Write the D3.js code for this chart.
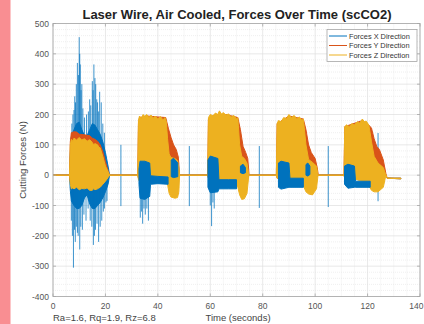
<!DOCTYPE html>
<html>
<head>
<meta charset="utf-8">
<script src="https://cdn.jsdelivr.net/npm/d3@7/dist/d3.min.js"></script>
<style>
  html, body { margin: 0; padding: 0; background: #ffffff; }
  svg { display: block; }
</style>
</head>
<body>
<svg id="chart" width="424" height="324"></svg>
<script>
// ---- Data ----
const title = "Laser Wire, Air Cooled, Forces Over Time (scCO2)";
const xLabel = "Time (seconds)";
const yLabel = "Cutting Forces (N)";
const note = "Ra=1.6, Rq=1.9, Rz=6.8";
const seriesNames = ["Forces X Direction", "Forces Y Direction", "Forces Z Direction"];
const xTicks = [0, 20, 40, 60, 80, 100, 120, 140];
const yTicks = [-400, -300, -200, -100, 0, 100, 200, 300, 400, 500];

// Envelopes of the dense signals: [time s, min N, max N]; null breaks a band
const forceXEnvelope = [
  [0,0,0],[6.3,0,0],[6.6,-50,70],[7,-85,125],[8,-100,150],[9,-110,170],[10,-110,175],
  [11,-100,150],[12,-75,130],[13,-65,130],[14,-95,150],[15,-110,170],[16,-110,165],
  [17,-100,150],[18,-90,135],[19,-75,110],[20,-55,75],[21,-30,30],[21.6,0,0],
  [32.3,0,0],[59,0,0],[85.2,0,0],[111,0,0],[127,0,0],[127.5,-10,-10],[132.7,-12,-10]
];
// thin excursions of the X force: [time s, min N, max N]
const forceXSpikes = [
  [7.2,0,170],[7.6,0,200],[8.0,0,215],[8.3,0,260],[8.6,0,240],[8.9,0,300],[9.3,0,370],[9.7,0,330],
  [10.0,0,455],[10.2,0,400],[10.4,0,365],[10.7,0,280],[11.0,0,300],[11.4,0,220],[12.0,0,190],
  [12.8,0,200],[13.5,0,210],[14.0,0,250],[14.4,0,230],[15.0,0,310],[15.3,0,280],[15.6,0,365],
  [16.0,0,320],[16.3,0,300],[16.7,0,250],[17.0,0,240],[17.4,0,210],[17.8,0,275],[18.4,0,240],
  [19.0,0,170],[19.6,0,140],
  [7.0,-150,0],[7.4,-200,0],[7.8,-305,0],[8.2,-180,0],[8.5,-220,0],[8.9,-170,0],[9.3,-190,0],
  [9.6,-200,0],[10.2,-245,0],[10.6,-170,0],[11.2,-180,0],[11.8,-130,0],[12.6,-150,0],[13.4,-110,0],
  [14.2,-150,0],[14.8,-170,0],[15.4,-230,0],[15.8,-200,0],[16.2,-180,0],[16.8,-160,0],[17.4,-220,0],
  [18.0,-170,0],[18.6,-150,0],[19.2,-120,0],[19.6,-110,0],[20.2,-90,0],[20.6,-85,0],
  [25.9,-102,100],[52,-102,96],[78.7,-108,96],[105,-105,96],[124,-86,139],
  [33.3,-140,0],[33.8,-120,0],[34.2,-160,0],[34.7,-110,0],[35.2,-130,0],[35.8,-110,0],[36.4,-150,0],
  [60.0,-100,0],[60.5,-168,0],[61.0,-90,0],[61.5,-110,0]
];
const forceXCore = [
  [32.8,-30,20],[33.2,-76,46],[35,-80,46],[36.9,-70,40],[37.2,-30,-2],[40,-28,-4],[43.9,-30,-6],null,
  [45.1,-5,50],[46,-8,56],[47.6,-5,40],null,
  [59.1,-40,50],[60,-58,63],[62.9,-55,55],[63.3,-45,-15],[67,-45,-15],[70,-45,-15],null,
  [71.5,8,30],[72.5,5,36],[73.4,8,25],null,
  [86,-40,40],[87,-46,46],[90,-40,40],[90.4,-40,-10],[95.5,-40,-10],null,
  [96.5,0,35],[97.2,-3,40],[98,2,30],null,
  [111.2,-30,30],[112.5,-43,36],[115,-40,30],[115.4,-40,-20],[121,-40,-20]
];
const forceYEnvelope = [
  [0,0,0],[6.3,0,0],[6.6,-20,110],[7,-30,140],[8,-30,143],[9,-30,142],[10,-30,135],[12,-30,133],
  [14,-30,130],[15,-30,122],[16,-30,118],[17,-30,112],[18,-25,100],[19,-20,78],[20,-10,45],
  [20.8,-5,20],[21.6,0,0],
  [32.3,0,0],[32.6,-10,170],[33,-15,190],[36,-15,195],[40,-10,192],[43,-10,190],[44,-15,155],
  [45,-20,125],[46,-20,100],[47,-20,85],[47.8,-15,60],[48.3,0,0],
  [59,0,0],[59.3,-10,185],[62,-10,200],[66,-15,200],[70.5,-20,190],[71.5,-20,150],[72.5,-20,95],
  [73.5,-20,75],[74.3,-10,55],[74.8,0,0],
  [85.2,0,0],[85.5,-10,170],[90,-10,195],[95.5,-20,185],[96.5,-20,150],[97.5,-20,100],
  [98.5,-15,75],[100,-10,55],[100.8,-5,25],[101.2,0,0],
  [111,0,0],[111.3,-10,160],[118,-10,180],[120.5,-15,165],[121.5,-20,155],[122.5,-20,120],
  [123.5,-20,95],[124.5,-15,85],[126,-10,50],[127,0,5],[127.5,-10,-10],[132.7,-12,-10]
];
const forceZEnvelope = [
  [0,0,0],[6.3,0,0],[6.6,-30,100],[7,-45,118],[7.5,-42,112],[8,-45,122],[9,-40,116],[10,-48,124],
  [11,-44,116],[12,-45,120],[13,-42,112],[14,-50,117],[15,-50,108],[15.5,-44,100],[16,-48,104],
  [17,-45,100],[17.5,-42,92],[18,-40,90],[19,-30,62],[20,-20,30],[21,-8,12],[21.6,0,0],
  [32.3,0,0],[32.6,-15,180],[33,-20,195],[33.7,-18,188],[34.4,-20,200],[35,-20,194],[35.8,-18,200],
  [36.6,-15,190],[37.4,-15,198],[38.2,-12,188],[39,-12,195],[40,-10,186],[41,-10,193],[42,-10,182],
  [42.7,-10,190],[43.2,-10,178],[43.7,-30,120],[44.3,-60,70],[45,-72,58],[46.5,-76,55],[47.5,-74,48],
  [48,-55,25],[48.3,0,0],
  [59,0,0],[59.3,-10,190],[60,-12,200],[61,-14,196],[62,-15,205],[62.8,-15,200],[63.5,-15,212],
  [64.2,-16,202],[65,-18,206],[66,-20,198],[67,-25,202],[68,-28,192],[69,-30,197],[70,-35,186],
  [70.5,-40,190],[71.2,-65,100],[72,-80,62],[73,-78,55],[74,-60,40],[74.7,0,0],
  [85.2,0,0],[85.5,-10,170],[86,-10,180],[87,-11,176],[88,-12,190],[89,-14,186],[90,-15,200],
  [91,-18,190],[92,-20,197],[93,-22,186],[94,-25,192],[95,-30,180],[95.5,-35,186],[96.5,-55,100],
  [97.5,-62,52],[99,-65,42],[100.5,-45,30],[101.1,0,0],
  [111,0,0],[111.3,-10,160],[112,-10,166],[113,-11,160],[114,-12,170],[115,-14,166],[116,-15,176],
  [117,-18,172],[118,-20,185],[118.8,-24,176],[119.5,-28,178],[120.5,-35,165],[121.5,-50,110],
  [122.5,-55,62],[124,-55,40],[126,-40,25],[127,0,0],[127.5,-10,-10],[132.7,-12,-10]
];
const seriesColors = ["#0072BD", "#D95319", "#EDB120"];

// ---- Layout ----
const svg = d3.select("#chart");
const L = 53, R = 420, T = 23.5, B = 296.5;
const x = d3.scaleLinear().domain([0, 140]).range([L, R]);
const y = d3.scaleLinear().domain([-400, 500]).range([B, T]);

svg.append("rect").attr("x", 0).attr("y", 0).attr("width", 10.5).attr("height", 324).attr("fill", "#f98e92");

// grid
const g = svg.append("g");
const xMinor = d3.range(0, 141, 5).filter(v => v % 20 !== 0);
const yMinor = d3.range(-400, 501, 20).filter(v => v % 100 !== 0);
g.selectAll(".xm").data(xMinor).join("line")
  .attr("x1", d => x(d)).attr("x2", d => x(d)).attr("y1", T).attr("y2", B)
  .attr("stroke", "#e4e4e4").attr("stroke-width", 0.6).attr("stroke-dasharray", "1,1");
g.selectAll(".ym").data(yMinor).join("line")
  .attr("x1", L).attr("x2", R).attr("y1", d => y(d)).attr("y2", d => y(d))
  .attr("stroke", "#e4e4e4").attr("stroke-width", 0.6).attr("stroke-dasharray", "1,1");
g.selectAll(".xg").data(xTicks).join("line")
  .attr("x1", d => x(d)).attr("x2", d => x(d)).attr("y1", T).attr("y2", B)
  .attr("stroke", "#dedede").attr("stroke-width", 0.7);
g.selectAll(".yg").data(yTicks).join("line")
  .attr("x1", L).attr("x2", R).attr("y1", d => y(d)).attr("y2", d => y(d))
  .attr("stroke", "#dedede").attr("stroke-width", 0.7);

// data
svg.append("clipPath").attr("id", "clip").append("rect")
  .attr("x", L).attr("y", T).attr("width", R - L).attr("height", B - T);
const plot = svg.append("g").attr("clip-path", "url(#clip)");
const area = d3.area().defined(d => d !== null)
  .x(d => x(d[0])).y0(d => y(d[1])).y1(d => y(d[2]));

function band(data, color) {
  plot.append("path").datum(data).attr("d", area)
    .attr("fill", color).attr("stroke", color).attr("stroke-width", 1).attr("stroke-linejoin", "round");
}
band(forceXEnvelope, seriesColors[0]);
plot.selectAll(".spike").data(forceXSpikes).join("line")
  .attr("x1", d => x(d[0])).attr("x2", d => x(d[0]))
  .attr("y1", d => y(d[1])).attr("y2", d => y(d[2]))
  .attr("stroke", seriesColors[0]).attr("stroke-width", 0.9).attr("stroke-opacity", 0.85);
band(forceYEnvelope, seriesColors[1]);
band(forceZEnvelope, seriesColors[2]);
band(forceXCore, seriesColors[0]);

// axes box
svg.append("rect").attr("x", L).attr("y", T).attr("width", R - L).attr("height", B - T)
  .attr("fill", "none").attr("stroke", "#a6a6a6").attr("stroke-width", 0.8);

// ticks (inside, MATLAB style)
const tk = svg.append("g").attr("stroke", "#a6a6a6").attr("stroke-width", 0.8);
xTicks.forEach(v => {
  tk.append("line").attr("x1", x(v)).attr("x2", x(v)).attr("y1", B).attr("y2", B - 3);
  tk.append("line").attr("x1", x(v)).attr("x2", x(v)).attr("y1", T).attr("y2", T + 3);
});
yTicks.forEach(v => {
  tk.append("line").attr("x1", L).attr("x2", L + 3).attr("y1", y(v)).attr("y2", y(v));
  tk.append("line").attr("x1", R).attr("x2", R - 3).attr("y1", y(v)).attr("y2", y(v));
});

const font = "'Liberation Sans', Arial, Helvetica, sans-serif";
const lastTick = xTicks[xTicks.length - 1];
svg.append("g").selectAll("text").data(xTicks).join("text")
  .attr("x", d => d === lastTick ? 423.5 : x(d)).attr("y", 309)
  .attr("text-anchor", d => d === lastTick ? "end" : "middle")
  .attr("font-family", font).attr("font-size", 8.5).attr("fill", "#555")
  .text(d => d);
svg.append("g").selectAll("text").data(yTicks).join("text")
  .attr("x", L - 4).attr("y", d => y(d) + 3).attr("text-anchor", "end")
  .attr("font-family", font).attr("font-size", 8.5).attr("fill", "#555")
  .text(d => d);

svg.append("text").attr("x", 237).attr("y", 19).attr("text-anchor", "middle")
  .attr("font-family", font).attr("font-size", 13).attr("font-weight", "bold").attr("fill", "#222")
  .text(title);
svg.append("text").attr("x", 238).attr("y", 321).attr("text-anchor", "middle")
  .attr("font-family", font).attr("font-size", 9.5).attr("fill", "#444")
  .text(xLabel);
svg.append("text").attr("x", 53).attr("y", 321).attr("text-anchor", "start")
  .attr("font-family", font).attr("font-size", 9.5).attr("fill", "#444")
  .text(note);
svg.append("text").attr("transform", "translate(26,160) rotate(-90)").attr("text-anchor", "middle")
  .attr("font-family", font).attr("font-size", 9.5).attr("fill", "#444")
  .text(yLabel);

// legend
const lg = svg.append("g");
lg.append("rect").attr("x", 327).attr("y", 29.5).attr("width", 90).attr("height", 32)
  .attr("fill", "#fff").attr("stroke", "#a6a6a6").attr("stroke-width", 0.8);
seriesNames.forEach((name, i) => {
  const yy = 36 + i * 9.5;
  lg.append("line").attr("x1", 329).attr("x2", 347).attr("y1", yy).attr("y2", yy)
    .attr("stroke", seriesColors[i]).attr("stroke-width", 1);
  lg.append("text").attr("x", 349).attr("y", yy + 2.6)
    .attr("font-family", font).attr("font-size", 7.4).attr("fill", "#333").text(name);
});
</script>
</body>
</html>
